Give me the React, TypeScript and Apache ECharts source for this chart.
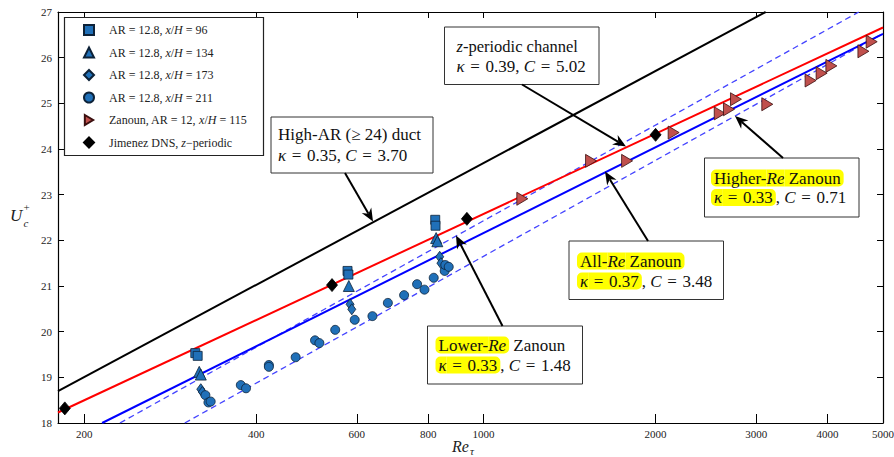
import React, { useEffect, useRef } from "react";
import * as echarts from "echarts";

// ---------- data ----------
const xTickValues = [200, 400, 600, 800, 1000, 2000, 3000, 4000, 5000];
const xMin = 180;
const xMax = 5000;
const yMin = 18;
const yMax = 27;

// AR = 12.8 duct measurements
const reSquare = [313, 316, 578, 580, 823, 824];
const uSquare = [19.53, 19.47, 21.33, 21.25, 22.45, 22.32];

const reTriangle = [318, 320, 581, 826, 830];
const uTriangle = [19.12, 19.06, 21.0, 22.05, 21.98];

const reDiamond = [320, 322, 584, 588, 838, 842];
const uDiamond = [18.74, 18.68, 20.6, 20.49, 21.64, 21.5];

const reCircle = [326, 330, 333, 376, 384, 421, 421, 469, 507, 516, 550, 595, 639, 680, 726, 765, 788, 818, 855, 857, 869];
const uCircle = [18.61, 18.45, 18.47, 18.83, 18.76, 19.27, 19.23, 19.44, 19.81, 19.75, 20.04, 20.26, 20.34, 20.63, 20.8, 21.04, 20.92, 21.18, 21.33, 21.46, 21.42];

// Zanoun
const reZanoun = [1169, 1542, 1783, 2151, 2590, 2688, 2765, 3137, 3735, 3905, 4061, 4621, 4777];
const uZanoun = [22.91, 23.74, 23.74, 24.36, 24.78, 24.87, 25.09, 24.98, 25.5, 25.66, 25.82, 26.14, 26.35];

// Jimenez DNS
const reJimenez = [185, 543, 935, 2000];
const uJimenez = [18.32, 21.02, 22.47, 24.31];

// log-law fit lines (end points)
const reHighAR = [180, 3116];
const uHighAR = [18.7, 27];
const reChannel = [180, 5000];
const uChannel = [18.23, 26.66];
const reAllRe = [215, 5000];
const uAllRe = [18, 26.52];
const reLowerRe = [231, 4536];
const uLowerRe = [18, 27];
const reHigherRe = [300, 5000];
const uHigherRe = [18, 26.53];

const legendNames = [
  "AR = 12.8, x/H = 96",
  "AR = 12.8, x/H = 134",
  "AR = 12.8, x/H = 173",
  "AR = 12.8, x/H = 211",
  "Zanoun, AR = 12, x/H = 115",
  "Jimenez DNS, z-periodic",
];
const legendRich = [
  "{s| }{n|AR = 12.8, }{i|x}{n|/}{i|H}{n| = 96}",
  "{s| }{n|AR = 12.8, }{i|x}{n|/}{i|H}{n| = 134}",
  "{s| }{n|AR = 12.8, }{i|x}{n|/}{i|H}{n| = 173}",
  "{s| }{n|AR = 12.8, }{i|x}{n|/}{i|H}{n| = 211}",
  "{s| }{n|Zanoun, AR = 12, }{i|x}{n|/}{i|H}{n| = 115}",
  "{s| }{n|Jimenez DNS, }{i|z}{n|\u2212periodic}",
];

// ---------- helpers ----------
const SERIF = '"Liberation Serif", "Times New Roman", serif';
const zip = (a: number[], b: number[]) => a.map((v, i) => [v, b[i]]);

const BLUE = "#2070b8";
const BLUE_EDGE = "#0d2238";
const EQ = "\u2004=\u2004";

function arrow(x1: number, y1: number, x2: number, y2: number) {
  const dx = x2 - x1;
  const dy = y2 - y1;
  const L = Math.hypot(dx, dy);
  const ux = dx / L;
  const uy = dy / L;
  const px = -uy;
  const py = ux;
  const hl = 13;
  const hw = 5.5;
  const notch = 4;
  const bx = x2 - ux * hl;
  const by = y2 - uy * hl;
  const nx = x2 - ux * (hl - notch);
  const ny = y2 - uy * (hl - notch);
  return [
    { type: "line", z: 100, shape: { x1, y1, x2: nx, y2: ny }, style: { stroke: "#000", lineWidth: 2 } },
    {
      type: "polygon",
      z: 100,
      shape: { points: [[x2, y2], [bx + px * hw, by + py * hw], [nx, ny], [bx - px * hw, by - py * hw]] },
      style: { fill: "#000" },
    },
  ];
}

const FS = 17;
const HL = "#ffff00";
const tok = (extra: any = {}) => ({ fill: "#111", fontFamily: SERIF, fontSize: FS, lineHeight: 16, ...extra });
const boxRich: any = {
  n: tok(),
  i: tok({ fontStyle: "italic" }),
  n2: tok({ fontSize: 16.5 }),
  i2: tok({ fontSize: 16.5, fontStyle: "italic" }),
  hL: tok({ backgroundColor: HL, borderRadius: [5, 0, 0, 5], padding: [0, 0, 0, 3] }),
  hI: tok({ fontStyle: "italic", backgroundColor: HL }),
  hIR: tok({ fontStyle: "italic", backgroundColor: HL, borderRadius: [0, 5, 5, 0], padding: [0, 3, 0, 0] }),
  hIL: tok({ fontStyle: "italic", backgroundColor: HL, borderRadius: [5, 0, 0, 5], padding: [0, 0, 0, 3] }),
  hR: tok({ backgroundColor: HL, borderRadius: [0, 5, 5, 0], padding: [0, 3, 0, 0] }),
};

function richText(x: number, y: number, text: string) {
  return {
    type: "text",
    z: 101,
    style: { x, y, text, rich: boxRich, verticalAlign: "middle", align: "left", font: `${FS}px ${SERIF}`, fill: "#111" },
  };
}

function box(x: number, y: number, w: number, h: number) {
  return {
    type: "rect",
    z: 99,
    shape: { x, y, width: w, height: h },
    style: { fill: "#fff", stroke: "#333", lineWidth: 1 },
  };
}

export default function App() {
  const ref = useRef<HTMLDivElement>(null);

  useEffect(() => {
    if (!ref.current) return;
    const chart = echarts.init(ref.current, null, { renderer: "svg" });

    const axisLabelStyle = { fontFamily: SERIF, fontSize: 11, color: "#222" };
    const lineSeries = (data: number[][], color: string, width: number, type: any = "solid") => ({
      type: "line",
      data,
      showSymbol: false,
      symbol: "none",
      silent: true,
      z: 1,
      lineStyle: { color, width, type },
      xAxisIndex: 0,
      yAxisIndex: 0,
    });
    const scatter = (name: string, data: number[][], symbol: string, size: any, color: string, edge: string, z = 3) => ({
      type: "scatter",
      name,
      data,
      symbol,
      symbolSize: size,
      z,
      itemStyle: { color, borderColor: edge, borderWidth: 0.8, opacity: 1 },
      xAxisIndex: 0,
      yAxisIndex: 0,
    });

    const option: any = {
      animation: false,
      backgroundColor: "#fff",
      grid: { left: 58, right: 11, top: 12, bottom: 34, containLabel: false, outerBoundsMode: "none" },
      xAxis: [
        {
          type: "log",
          logBase: 10,
          position: "bottom",
          min: xMin,
          max: xMax,
          axisLine: { onZero: false, lineStyle: { color: "#000", width: 1.2 } },
          axisTick: { show: true, inside: true, length: 9, customValues: xTickValues, lineStyle: { color: "#000" } },
          axisLabel: {
            show: true,
            customValues: xTickValues,
            margin: 5,
            ...axisLabelStyle,
            formatter: (v: number) => String(Math.round(v)),
          },
          splitLine: { show: false },
          minorTick: { show: false },
        },
        {
          type: "log",
          logBase: 10,
          position: "top",
          min: xMin,
          max: xMax,
          axisLine: { onZero: false, lineStyle: { color: "#000", width: 1.2 } },
          axisTick: { show: true, inside: true, length: 6, customValues: xTickValues, lineStyle: { color: "#000" } },
          axisLabel: { show: false },
          splitLine: { show: false },
        },
      ],
      yAxis: [
        {
          type: "value",
          position: "left",
          min: yMin,
          max: yMax,
          interval: 1,
          axisLine: { show: true, onZero: false, lineStyle: { color: "#000", width: 1.2 } },
          axisTick: { show: true, inside: true, length: 6, lineStyle: { color: "#000" } },
          axisLabel: { margin: 6, ...axisLabelStyle },
          splitLine: { show: false },
        },
        {
          type: "value",
          position: "right",
          min: yMin,
          max: yMax,
          interval: 1,
          axisLine: { show: true, onZero: false, lineStyle: { color: "#000", width: 1.2 } },
          axisTick: { show: true, inside: true, length: 6, lineStyle: { color: "#000" } },
          axisLabel: { show: false },
          splitLine: { show: false },
        },
      ],
      legend: {
        data: legendNames,
        orient: "vertical",
        left: 64,
        top: 17,
        padding: [7, 10, 6, 19],
        itemWidth: 10,
        itemHeight: 10,
        itemGap: 10.5,
        selectedMode: false,
        backgroundColor: "#fff",
        borderWidth: 0,
        formatter: (name: string) => legendRich[legendNames.indexOf(name)],
        textStyle: {
          fontFamily: SERIF,
          fontSize: 12,
          lineHeight: 12,
          color: "#222",
          rich: {
            s: { width: 10 },
            n: { fontFamily: SERIF, fontSize: 12, color: "#222", lineHeight: 12 },
            i: { fontFamily: SERIF, fontSize: 12, color: "#222", fontStyle: "italic", lineHeight: 12 },
          },
        },
      },
      series: [
        lineSeries(zip(reHighAR, uHighAR), "#000", 2),
        lineSeries(zip(reLowerRe, uLowerRe), "#4444ff", 1.3, [6, 4]),
        lineSeries(zip(reHigherRe, uHigherRe), "#4444ff", 1.3, [6, 4]),
        lineSeries(zip(reAllRe, uAllRe), "#0000ff", 2),
        lineSeries(zip(reChannel, uChannel), "#ff0000", 2),
        scatter(legendNames[0], zip(reSquare, uSquare), "rect", 9, BLUE, BLUE_EDGE),
        scatter(legendNames[1], zip(reTriangle, uTriangle), "triangle", 11, BLUE, BLUE_EDGE),
        scatter(legendNames[2], zip(reDiamond, uDiamond), "diamond", [8, 11], BLUE, BLUE_EDGE),
        scatter(legendNames[3], zip(reCircle, uCircle), "circle", 9, BLUE, BLUE_EDGE),
        scatter(legendNames[4], zip(reZanoun, uZanoun), "path://M0,0L10,6L0,12Z", [11, 13], "#c0504d", "#3a0f0f"),
        scatter(legendNames[5], zip(reJimenez, uJimenez), "diamond", [11, 13], "#000", "#000", 4),
      ],
      graphic: [
        // legend frame
        {
          type: "rect",
          z: 100,
          shape: { x: 64.5, y: 17.5, width: 199, height: 138 },
          style: { fill: "none", stroke: "#222", lineWidth: 1.2 },
        },
        // y axis name U_c^+
        { type: "text", z: 100, style: { x: 10, y: 215, text: "U", font: `italic 17px ${SERIF}`, fill: "#222", verticalAlign: "middle" } },
        { type: "text", z: 100, style: { x: 23.5, y: 207, text: "+", font: `11px ${SERIF}`, fill: "#222", verticalAlign: "middle" } },
        { type: "text", z: 100, style: { x: 23.5, y: 223, text: "c", font: `italic 11px ${SERIF}`, fill: "#222", verticalAlign: "middle" } },
        // x axis name Re_tau
        { type: "text", z: 100, style: { x: 452, y: 446, text: "Re", font: `italic 16px ${SERIF}`, fill: "#222", verticalAlign: "middle" } },
        { type: "text", z: 100, style: { x: 470, y: 451, text: "\u03c4", font: `italic 11px ${SERIF}`, fill: "#222", verticalAlign: "middle" } },

        // Box 1: High-AR duct
        box(271, 117, 162, 56),
        richText(278, 134, "{n|High-AR (\u2265 24) duct}"),
        richText(278, 155, `{i|\u03ba}{n|${EQ}0.35, }{i|C}{n|${EQ}3.70}`),
        ...arrow(345, 173, 373, 221.5),

        // Box 2: z-periodic channel
        box(444.5, 27, 154.5, 57.5),
        richText(456.5, 46.5, "{i2|z}{n2|-periodic channel}"),
        richText(456.5, 66, `{i|\u03ba}{n|${EQ}0.39, }{i|C}{n|${EQ}5.02}`),
        ...arrow(522, 84.5, 626, 146.5),

        // Box 3: Higher-Re Zanoun
        box(704.5, 158, 154.5, 59),
        richText(711, 178, "{hL|Higher-}{hI|Re}{hR| Zanoun}"),
        richText(711, 197.5, `{hIL|\u03ba}{hR|${EQ}0.33}{n|, }{i|C}{n|${EQ}0.71}`),
        ...arrow(783, 158, 735, 116),

        // Box 4: All-Re Zanoun
        box(569, 241, 154.5, 58.5),
        richText(577, 261, "{hL|All-}{hI|Re}{hR| Zanoun}"),
        richText(577, 281, `{hIL|\u03ba}{hR|${EQ}0.37}{n|, }{i|C}{n|${EQ}3.48}`),
        ...arrow(648, 241, 605, 171.5),

        // Box 5: Lower-Re Zanoun
        box(427.5, 326, 155, 58),
        richText(435.5, 345, "{hL|Lower-}{hIR|Re}{n| Zanoun}"),
        richText(435.5, 365, `{hIL|\u03ba}{hR|${EQ}0.33}{n|, }{i|C}{n|${EQ}1.48}`),
        ...arrow(502.5, 326, 456, 235.5),
      ],
    };

    chart.setOption(option);
    return () => chart.dispose();
  }, []);

  return (
    <div
      ref={ref}
      style={{ position: "fixed", left: 0, top: 0, width: 894, height: 457, background: "#fff" }}
    />
  );
}
